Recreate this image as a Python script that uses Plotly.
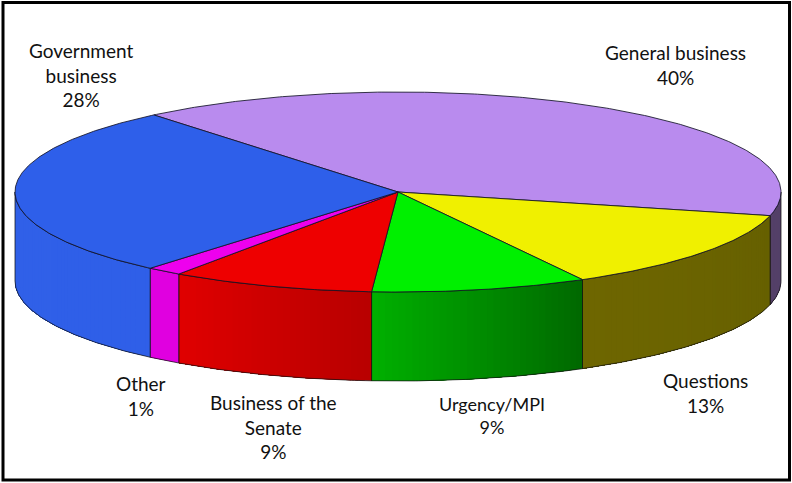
import math
import plotly.graph_objects as go

categories = ["General business", "Questions", "Urgency/MPI", "Business of the Senate", "Other", "Government business"]
values = [39.8, 13.2, 9.1, 8.6, 1.5, 27.8]
percent_labels = ["40%", "13%", "9%", "9%", "1%", "28%"]
label_texts = ["General business<br>40%", "Questions<br>13%", "Urgency/MPI<br>9%",
               "Business of the<br>Senate<br>9%", "Other<br>1%", "Government<br>business<br>28%"]

top_colors = ["#B98BEE", "#F0F000", "#00F000", "#EE0000", "#EE00EE", "#2E5FEA"]
wall_right = [(84, 64, 104), (102, 96, 0), (0, 104, 0), (184, 0, 0), (224, 0, 224), (47, 95, 232)]
wall_left = [(84, 64, 104), (110, 102, 0), (0, 176, 0), (224, 0, 0), (224, 0, 224), (48, 96, 232)]

label_pos = [(675, 65), (705, 393), (492, 415), (273, 427), (141, 396), (81, 75)]
label_size = [19, 19, 18, 19, 19, 19]

CX, CY, RX, RY, DEPTH = 398, 192, 383, 100, 89
START_DEG = 320.4


def rim(deg, drop=0.0):
    a = math.radians(deg)
    return CX + RX * math.sin(a), CY - RY * math.cos(a) + drop


def arc(a0, a1, drop=0.0, step=0.5):
    n = max(2, int(abs(a1 - a0) / step) + 1)
    return [rim(a0 + (a1 - a0) * i / (n - 1), drop) for i in range(n)]


def poly(points, fill, line=None, width=0.0):
    return go.Scatter(
        x=[p[0] for p in points], y=[p[1] for p in points], mode="lines",
        fill="toself", fillcolor=fill,
        line=dict(color=line or fill, width=width),
        hoverinfo="skip", showlegend=False,
    )


total = sum(values)
spans = []
angle = START_DEG
for v in values:
    sweep = v / total * 360
    spans.append((angle, angle + sweep))
    angle += sweep

fig = go.Figure()

# Side walls: only the front half of the disc (90..270 degrees) is visible
for i, (a0, a1) in enumerate(spans):
    for shift in (0, 360, -360):
        v0 = max(a0 + shift, 90)
        v1 = min(a1 + shift, 270)
        if v1 <= v0:
            continue
        n = max(1, int((v1 - v0) / 1.0))
        for k in range(n):
            # every strip reaches the far end of the wall, the next one paints over it: no seams
            s0 = v0 + (v1 - v0) * k / n
            t = (k + 0.5) / n
            rgb = tuple(round(wall_right[i][c] + (wall_left[i][c] - wall_right[i][c]) * t) for c in range(3))
            strip = arc(s0, v1) + arc(v1, s0, DEPTH)
            fig.add_trace(poly(strip, "rgb(%d,%d,%d)" % rgb))
        edge = arc(v0, v1) + arc(v1, v0, DEPTH) + [rim(v0)]
        fig.add_trace(go.Scatter(
            x=[p[0] for p in edge], y=[p[1] for p in edge], mode="lines",
            line=dict(color="rgba(20,20,20,0.75)", width=1), hoverinfo="skip", showlegend=False,
        ))

# Top face
for i, (a0, a1) in enumerate(spans):
    pts = [(CX, CY)] + arc(a0, a1) + [(CX, CY)]
    fig.add_trace(poly(pts, top_colors[i], "rgba(20,20,40,0.85)", 1))

for text, (x, y), size in zip(label_texts, label_pos, label_size):
    fig.add_annotation(
        x=x, y=y, text=text, showarrow=False, xref="x", yref="y",
        font=dict(family="Lato", size=size, color="#111111"), align="center",
    )

fig.add_shape(type="rect", x0=3, y0=2.5, x1=789.5, y1=480, xref="x", yref="y",
              line=dict(color="black", width=3), fillcolor="rgba(0,0,0,0)")

fig.update_layout(
    width=792, height=483, margin=dict(l=0, r=0, t=0, b=0),
    paper_bgcolor="white", plot_bgcolor="white", showlegend=False,
    xaxis=dict(range=[0, 792], visible=False, fixedrange=True),
    yaxis=dict(range=[483, 0], visible=False, fixedrange=True),
)
fig.write_html("out.html", config={"displayModeBar": False},
               post_script="document.body.style.margin='0';document.body.style.overflow='hidden';")
